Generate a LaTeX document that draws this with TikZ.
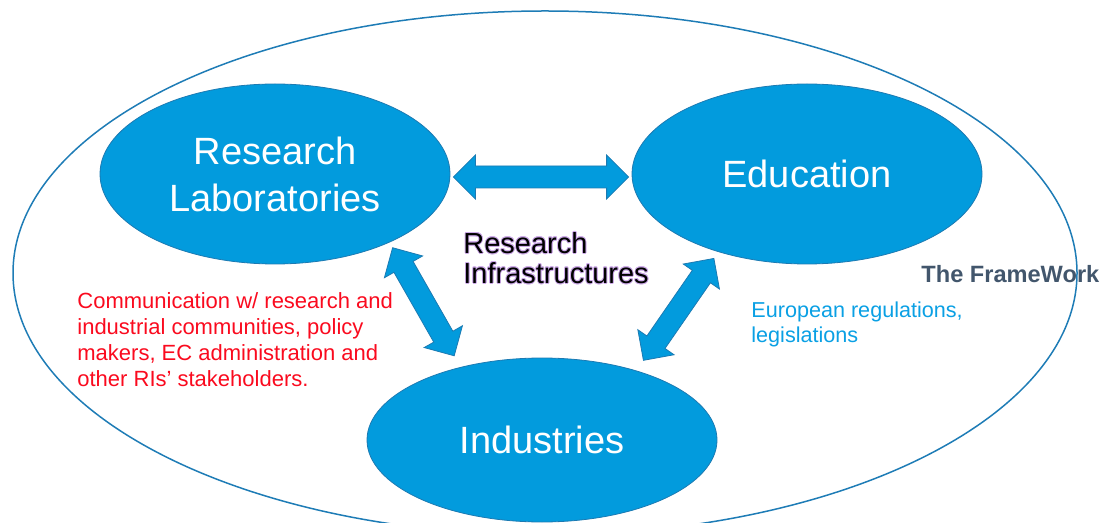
\documentclass[tikz,border=0pt]{standalone}
\usepackage{fontspec}
\setmainfont{Liberation Sans}
\usepackage{contour}
\usepackage{tikz}
\usetikzlibrary{shapes.geometric, calc}
\definecolor{blob}{RGB}{2,155,221}
\definecolor{blob-edge}{RGB}{28,122,178}
\definecolor{frame-line}{RGB}{30,124,182}
\definecolor{note-red}{RGB}{250,10,30}
\definecolor{note-blue}{RGB}{10,160,228}
\definecolor{frame-text}{RGB}{66,86,108}
\definecolor{glow}{RGB}{205,170,232}
\contourlength{0.4pt}
\tikzset{
    actor/.style = {ellipse, fill=blob, draw=blob-edge, line width=0.4pt, inner sep=0pt,
        text=white, align=center, minimum width=175pt,
        font=\fontsize{19}{23.5}\selectfont},
    note/.style = {anchor=north west, inner sep=0pt, align=left},
    fat/.style = {fill=blob, draw=blob-edge, line width=0.4pt},
}
% block arrow with a head at both ends, from #1 to #2
\newcommand\fatarrow[2]{%
    \filldraw[fat] let \p1=($(#2)-(#1)$), \n1={atan2(\y1,\x1)}, \n2={veclen(\x1,\y1)} in
        [shift={(#1)}, rotate=\n1]
        (0pt,0pt) -- (11pt,11pt) -- (11pt,5.5pt) -- ({\n2*1pt-11pt},5.5pt)
        -- ({\n2*1pt-11pt},11pt) -- ({\n2*1pt},0pt) -- ({\n2*1pt-11pt},-11pt)
        -- ({\n2*1pt-11pt},-5.5pt) -- (11pt,-5.5pt) -- (11pt,-11pt) -- cycle;
}

\begin{document}
\begin{tikzpicture}[x=0.5pt, y=-0.5pt]
\useasboundingbox (0,0) rectangle (1107,523);
\clip (0,0) rectangle (1107,523);

\node[ellipse, draw=frame-line, line width=0.75pt, minimum width=532pt, minimum height=262pt] (frame) at (545,273) {};

\node[actor, minimum height=90pt] (lab) at (275,174) {Research\\Laboratories};
\node[actor, minimum height=90pt] (edu) at (807,174) {\raisebox{-2pt}{Education}};
\node[actor, minimum height=82pt] (ind) at (542,440) {Industries};

\coordinate (lab-e)  at ([shift={(3,3)}]lab.east);
\coordinate (edu-w)  at ([shift={(-3,3)}]edu.west);
\coordinate (lab-se) at ([shift={(6,4)}]lab.-32);
\coordinate (ind-nw) at ([shift={(-11,-10)}]ind.136);
\coordinate (edu-sw) at ([shift={(-6,6)}]edu.222);
\coordinate (ind-ne) at ([shift={(11,-9)}]ind.38);

\fatarrow{lab-e}{edu-w}
\fatarrow{lab-se}{ind-nw}
\fatarrow{edu-sw}{ind-ne}

\node[note, font=\fontsize{14.5}{15}\selectfont] (ri) at (463,232)
    {\contour{glow}{Research}\\\contour{glow}{Infrastructures}};
\node[note, anchor=west, text=frame-text, font=\bfseries\fontsize{11.8}{14}\selectfont] (fw) at (921,274) {The FrameWork};
\node[note, text=note-red, font=\fontsize{11}{13}\selectfont] (comm) at (77,292)
    {Communication w/ research and\\industrial communities, policy\\makers, EC administration and\\other RIs’ stakeholders.};
\node[note, text=note-blue, font=\fontsize{10.8}{12.5}\selectfont] (eu) at (751,301)
    {European regulations,\\legislations};

\end{tikzpicture}
\end{document}
